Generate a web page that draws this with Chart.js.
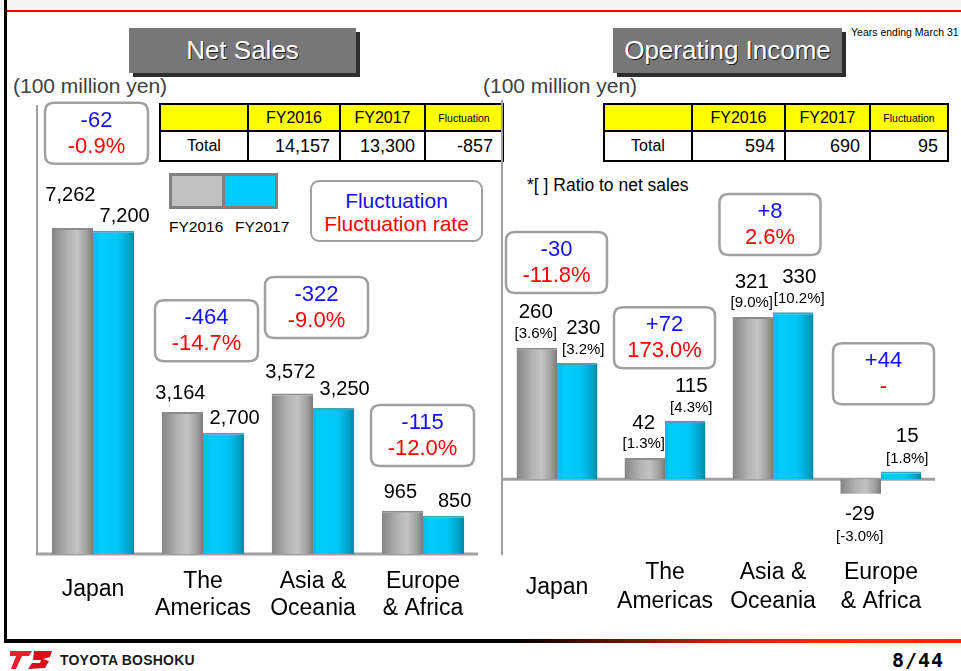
<!DOCTYPE html>
<html>
<head>
<meta charset="utf-8">
<script src="https://cdn.jsdelivr.net/npm/chart.js@4.4.1/dist/chart.umd.min.js"></script>
<style>
  body { margin: 0; background: #fff; font-family: "Liberation Sans", Arial, sans-serif; }
  #slide { position: relative; width: 961px; height: 671px; overflow: hidden; background: #fff; }
  #slide canvas { position: absolute; left: 0; top: 0; }
  .abs { position: absolute; }
  .topband { left: 0; top: 0; width: 961px; height: 10px; background: #f4f4f4; }
  .redline { left: 5px; top: 10px; width: 956px; height: 2px; background: #ff0000; }
  .leftline { left: 4px; top: 0; width: 3px; height: 643px; background: #000; }
  .bottomline { left: 4px; top: 639px; width: 957px; height: 4px;
    background: linear-gradient(to right, #000 0px, #000 511px, #5a1000 600px, #c02a00 720px, #ff2a00 860px, #ff2000 957px); }
  .title { top: 28px; height: 45px; line-height: 45px; background: #777; color: #fff; font-size: 26px;
    text-align: center; box-shadow: 4px 4px 0 #2e2e2e; text-shadow: 1px 1px 0 #222; }
  .unit { top: 74px; font-size: 21px; color: #404040; }
  .note { font-size: 10.5px; color: #000; }
  table.tbl { position: absolute; border-collapse: collapse; }
  table.tbl td { border: 2px solid #000; padding: 0 9px; text-align: right; font-size: 18px; height: 28px; }
  table.tbl tr.hd td { background: #ffff00; text-align: center; font-size: 16px; height: 25px; padding: 0; }
  table.tbl tr.hd td.fl { font-size: 10.5px; }
  table.tbl td.lbl { text-align: center; font-size: 16px; padding: 0; }
  .swatch { left: 169px; top: 173px; width: 103px; height: 30px; border: 3px solid #808080; display: flex; }
  .swatch div { flex: 1; }
  .legtxt { top: 218px; font-size: 15.5px; }
  .legbox { left: 310px; top: 180px; width: 169px; border: 2.5px solid #a0a0a0; border-radius: 9px;
    text-align: center; font-size: 21px; line-height: 23px; padding-top: 7px; height: 51px; }
  .brand { left: 60px; top: 652px; font-size: 14px; font-weight: bold; color: #1a1a1a; letter-spacing: 0.2px; }
  .page { left: 892px; top: 648px; font-family: "DejaVu Sans Mono", monospace; font-weight: bold; font-size: 20px; letter-spacing: 1px; }
</style>
</head>
<body>
<div id="slide">
  <div class="abs topband"></div>
  <div class="abs redline"></div>
  <div class="abs leftline"></div>
  <div class="abs bottomline"></div>

  <div class="abs title" style="left:129px;width:227px;">Net Sales</div>
  <div class="abs title" style="left:613px;width:229px;">Operating Income</div>
  <div class="abs note" style="left:851px;top:26px;">Years ending March 31</div>
  <div class="abs unit" style="left:13px;">(100 million yen)</div>
  <div class="abs unit" style="left:483px;">(100 million yen)</div>

  <table class="tbl" id="salesTable" style="left:159px;top:103px;">
    <tr class="hd"><td style="width:86px"></td><td style="width:90px" class="y0"></td><td style="width:83px" class="y1"></td><td class="fl" style="width:76px">Fluctuation</td></tr>
    <tr><td class="lbl">Total</td><td></td><td></td><td></td></tr>
  </table>
  <table class="tbl" id="incomeTable" style="left:603px;top:103px;">
    <tr class="hd"><td style="width:86px"></td><td style="width:91px" class="y0"></td><td style="width:83px" class="y1"></td><td class="fl" style="width:76px">Fluctuation</td></tr>
    <tr><td class="lbl">Total</td><td></td><td></td><td></td></tr>
  </table>

  <div class="abs swatch"><div style="background:#c0c0c0;border-right:3px solid #808080;"></div><div style="background:#00ccff;"></div></div>
  <div class="abs legtxt" id="leg0" style="left:169px;"></div>
  <div class="abs legtxt" id="leg1" style="left:235px;"></div>
  <div class="abs legbox"><span style="color:#1010ff">Fluctuation</span><br><span style="color:#ff0000">Fluctuation rate</span></div>

  <div class="abs" style="left:527px;top:175px;font-size:17.5px;">*[ ] Ratio to net sales</div>

  <svg class="abs" style="left:10px;top:648px;" width="44" height="22" viewBox="0 0 44 22">
    <polygon points="0,3 22,3 19,8 12,8 6,21 1,21 6,8 0,8" fill="#e8202a"/>
    <polygon points="24,3 42,3 40,9 33,11 39,13 35,20 18,21 22,15 30,15 31,12 23,12" fill="#d8101c"/>
  </svg>
  <div class="abs brand">TOYOTA BOSHOKU</div>
  <div class="abs page">8/44</div>

  <canvas id="salesChart" width="961" height="671"></canvas>
  <canvas id="incomeChart" width="961" height="671"></canvas>
</div>

<script>
const regions = ["Japan", ["The", "Americas"], ["Asia &", "Oceania"], ["Europe", "& Africa"]];
const years = ["FY2016", "FY2017"];

const sales2016 = [7262, 3164, 3572, 965];
const sales2017 = [7200, 2700, 3250, 850];
const salesChange = ["-62", "-464", "-322", "-115"];
const salesRate = ["-0.9%", "-14.7%", "-9.0%", "-12.0%"];
const salesTotals = ["14,157", "13,300", "-857"];

const income2016 = [260, 42, 321, -29];
const income2017 = [230, 115, 330, 15];
const ratio2016 = ["3.6%", "1.3%", "9.0%", "-3.0%"];
const ratio2017 = ["3.2%", "4.3%", "10.2%", "1.8%"];
const incomeChange = ["-30", "+72", "+8", "+44"];
const incomeRate = ["-11.8%", "173.0%", "2.6%", "-"];
const incomeTotals = ["594", "690", "95"];

const FONT = '"Liberation Sans", Arial, sans-serif';

// tables and legend text
function fillTable(id, totals) {
  const t = document.getElementById(id);
  t.querySelector(".y0").textContent = years[0];
  t.querySelector(".y1").textContent = years[1];
  const cells = t.rows[1].cells;
  totals.forEach((v, i) => { cells[i + 1].textContent = v; });
}
fillTable("salesTable", salesTotals);
fillTable("incomeTable", incomeTotals);
document.getElementById("leg0").textContent = years[0];
document.getElementById("leg1").textContent = years[1];

// cylinder look for the bars
const grayStops = [[0, "#858585"], [0.4, "#b4b4b4"], [0.62, "#c3c3c3"], [0.85, "#a0a0a0"], [1, "#7a7a7a"]];
const blueStops = [[0, "#00bde9"], [0.2, "#00ccfa"], [0.6, "#00c6f4"], [0.85, "#00a6cc"], [1, "#0088a6"]];

function barFill(which, fallback, stops) {
  return (c) => {
    const chart = c.chart;
    const xs = chart.scales && chart.scales.x;
    if (c.type !== "data" || !xs || !chart.chartArea) return fallback;
    const step = xs.width / chart.data.labels.length;
    const w = step * 0.75 / 2;
    const mid = xs.getPixelForValue(c.dataIndex);
    const left = which === 0 ? mid - w : mid;
    const g = chart.ctx.createLinearGradient(left, 0, left + w, 0);
    stops.forEach(s => g.addColorStop(s[0], s[1]));
    return g;
  };
}

function roundBox(ctx, x, y, w, h, r) {
  ctx.beginPath();
  ctx.moveTo(x + r, y);
  ctx.lineTo(x + w - r, y);
  ctx.quadraticCurveTo(x + w, y, x + w, y + r);
  ctx.lineTo(x + w, y + h - r);
  ctx.quadraticCurveTo(x + w, y + h, x + w - r, y + h);
  ctx.lineTo(x + r, y + h);
  ctx.quadraticCurveTo(x, y + h, x, y + h - r);
  ctx.lineTo(x, y + r);
  ctx.quadraticCurveTo(x, y, x + r, y);
  ctx.closePath();
}

// axis lines: left edge and the zero line
const axisLines = {
  id: "axisLines",
  beforeDatasetsDraw(chart) {
    const { ctx, chartArea: a } = chart;
    const zero = chart.scales.y.getPixelForValue(0);
    ctx.save();
    ctx.strokeStyle = "#a0a0a0";
    ctx.lineWidth = 2;
    ctx.beginPath();
    ctx.moveTo(a.left - 1, a.top);
    ctx.lineTo(a.left - 1, a.bottom);
    ctx.stroke();
    ctx.lineWidth = 3;
    ctx.beginPath();
    ctx.moveTo(a.left - 2, zero);
    ctx.lineTo(a.right, zero);
    ctx.stroke();
    ctx.restore();
  }
};

// numbers above / below the bars
const barTags = {
  id: "barTags",
  afterDatasetsDraw(chart, args, o) {
    const ctx = chart.ctx;
    ctx.save();
    ctx.textAlign = "center";
    ctx.textBaseline = "middle";
    ctx.fillStyle = "#000";
    chart.data.datasets.forEach((ds, di) => {
      chart.getDatasetMeta(di).data.forEach((bar, i) => {
        const v = ds.data[i];
        const x = bar.x + o.dx[di];
        const lift = (o.lift && o.lift[di][i]) || 0;
        const vy = v >= 0 ? bar.y + o.valueDy[di] - lift : bar.y + o.negValueDy;
        ctx.font = o.valueFont;
        ctx.fillText(v.toLocaleString("en-US"), x, vy);
        if (o.ratios) {
          const ry = v >= 0 ? bar.y + o.ratioDy[di] - lift : bar.y + o.negRatioDy;
          ctx.font = o.ratioFont;
          ctx.fillText("[" + o.ratios[di][i] + "]", x, ry);
        }
      });
    });
    ctx.restore();
  }
};

// rounded boxes with change and change rate
const changeBoxes = {
  id: "changeBoxes",
  afterDraw(chart, args, o) {
    const { ctx } = chart;
    const xs = chart.scales.x, ys = chart.scales.y;
    ctx.save();
    ctx.textAlign = "center";
    ctx.textBaseline = "middle";
    o.change.forEach((txt, i) => {
      const cx = xs.getPixelForValue(i) + o.shift[i];
      const top = ys.getPixelForValue(o.top[i]);
      roundBox(ctx, cx - o.w / 2, top, o.w, o.h, 9);
      ctx.fillStyle = "#fff";
      ctx.fill();
      ctx.lineWidth = 2.5;
      ctx.strokeStyle = "#a0a0a0";
      ctx.stroke();
      ctx.font = "22px " + FONT;
      ctx.fillStyle = "#1010ff";
      ctx.fillText(txt, cx, top + 18);
      ctx.fillStyle = "#ff0000";
      ctx.fillText(o.rate[i], cx, top + 44);
    });
    ctx.restore();
  }
};

function makeChart(id, d0, d1, opts) {
  return new Chart(document.getElementById(id), {
    type: "bar",
    data: {
      labels: regions,
      datasets: [
        { label: years[0], data: d0, backgroundColor: barFill(0, "#b0b0b0", grayStops),
          borderColor: "#8c8c8c", borderWidth: { top: 2 }, borderSkipped: "start" },
        { label: years[1], data: d1, backgroundColor: barFill(1, "#00c8f8", blueStops),
          borderColor: "#4aa0b8", borderWidth: { top: 2 }, borderSkipped: "start" }
      ]
    },
    options: {
      responsive: false,
      devicePixelRatio: 1,
      animation: false,
      barPercentage: 1,
      categoryPercentage: 0.75,
      layout: { padding: opts.padding },
      scales: {
        x: {
          grid: { display: false, drawTicks: false },
          border: { display: false },
          ticks: {
            color: "#000",
            // single-line labels can sit a little higher than the two-line ones
            font: (c) => ({
              family: FONT, size: 23,
              lineHeight: Array.isArray(regions[c.index]) ? opts.tickLine : opts.singleLine
            }),
            padding: opts.tickPad,
            crossAlign: "center",
            maxRotation: 0,
            autoSkip: false
          },
          afterFit: (s) => { s.height = 70; }
        },
        y: { display: false, min: opts.min, max: opts.max }
      },
      plugins: {
        legend: { display: false },
        tooltip: { enabled: false },
        barTags: opts.tags,
        changeBoxes: opts.boxes
      }
    },
    plugins: [axisLines, barTags, changeBoxes]
  });
}

makeChart("salesChart", sales2016, sales2017, {
  padding: { left: 38, right: 483, top: 105, bottom: 47 },
  min: 0, max: 10000,
  tickPad: 28, tickLine: 1.17, singleLine: 1.7,
  tags: {
    valueFont: "20px " + FONT,
    dx: [-2, 11],
    valueDy: [-18, -14],
    lift: [[14, 0, 3, 0], [0, 0, 5, 0]]
  },
  boxes: {
    change: salesChange, rate: salesRate,
    top: [10050, 5650, 6170, 3320],
    shift: [3.5, 3.5, 3.5, -0.5],
    w: 103, h: 61
  }
});

makeChart("incomeChart", income2016, income2017, {
  padding: { left: 503, right: 26, top: 100, bottom: 46 },
  min: -150, max: 750,
  tickPad: 18, tickLine: 1.25, singleLine: 1.25,
  tags: {
    valueFont: "20.5px " + FONT,
    ratioFont: "15px " + FONT,
    ratios: [ratio2016, ratio2017],
    dx: [-1, 6],
    valueDy: [-35, -35],
    ratioDy: [-14, -13],
    negValueDy: 21,
    negRatioDy: 43
  },
  boxes: {
    change: incomeChange, rate: incomeRate,
    top: [489, 340, 564, 269],
    shift: [-0.5, -0.5, -3, 2.5],
    w: 101, h: 61
  }
});
</script>
</body>
</html>
